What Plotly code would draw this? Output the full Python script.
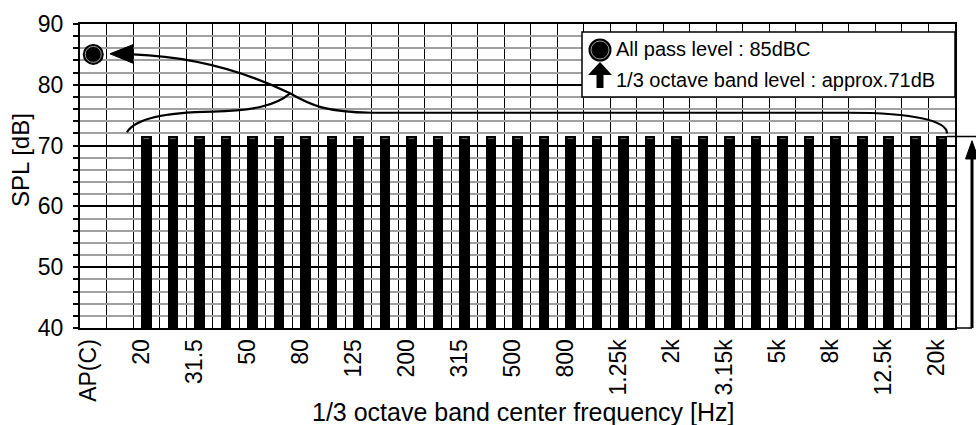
import plotly.graph_objects as go

# ---------------- data ----------------
ap_label = "AP(C)"
ap_level = 85
bands = ["20", "25", "31.5", "40", "50", "63", "80", "100", "125", "160", "200",
         "250", "315", "400", "500", "630", "800", "1k", "1.25k", "1.6k", "2k",
         "2.5k", "3.15k", "4k", "5k", "6.3k", "8k", "10k", "12.5k", "16k", "20k"]
band_levels = [71.5, 71.5, 71.5, 71.5, 71.5, 71.5, 71.5, 71.5, 71.5, 71.5, 71.5,
               71.5, 71.5, 71.5, 71.5, 71.5, 71.5, 71.5, 71.5, 71.5, 71.5,
               71.5, 71.5, 71.5, 71.5, 71.5, 71.5, 71.5, 71.5, 71.5, 71.5]
legend_lines = ["All pass level : 85dBC", "1/3 octave band level : approx.71dB"]
x_title = "1/3 octave band center frequency [Hz]"
y_title = "SPL [dB]"
y_range = [40, 90]

# ---------------- layout helpers ----------------
FONT = "Liberation Sans"
W, H = 976, 425
PL, PR, PT, PB = 80, 955, 24, 328   # plot area on screen
ML, MT = PL, PT
MR, MB = W - PR, H - PB
ap_x = 0
band_x = [i + 2 for i in range(len(bands))]   # one empty slot after AP(C)
n_slots = band_x[-1] + 1
level = band_levels[-1]

tickvals = [ap_x] + band_x[::2]
ticktext = [ap_label] + bands[::2]


def px2paper_x(px):
    return (px - PL) / (PR - PL)


def px2paper_y(py):
    return (PB - py) / (PB - PT)


def val2paper_y(v):
    return (v - y_range[0]) / (y_range[1] - y_range[0])


fig = go.Figure()

fig.add_trace(go.Bar(
    x=band_x, y=[v - y_range[0] for v in band_levels], base=y_range[0],
    width=0.4, marker=dict(color="black", line=dict(width=0)),
    showlegend=False, hoverinfo="skip"))
# thin grey cap line visible near the top of each bar
fig.add_trace(go.Scatter(
    x=band_x, y=[v - 0.35 for v in band_levels], mode="markers",
    marker=dict(symbol="line-ew", size=4, line=dict(color="#707070", width=1)),
    showlegend=False, hoverinfo="skip"))
# all-pass point
fig.add_trace(go.Scatter(
    x=[ap_x], y=[ap_level], mode="markers",
    marker=dict(symbol="circle", size=21, color="black", line=dict(width=0)),
    showlegend=False, hoverinfo="skip"))
fig.add_trace(go.Scatter(
    x=[ap_x], y=[ap_level], mode="markers",
    marker=dict(symbol="circle", size=16, color="black",
                line=dict(color="#9a9a9a", width=1)),
    showlegend=False, hoverinfo="skip"))

shapes = []
# brace (left branch) and arrow curve (continuing into right branch)
shapes.append(dict(type="path", xref="x", yref="y", layer="above",
                   path="M 1.27 72.2 C 1.6 74.6, 2.8 75.5, 4.5 75.6 C 6.0 75.7, 6.9 76.6, 7.42 78.6",
                   line=dict(color="black", width=2.2)))
shapes.append(dict(type="path", xref="x", yref="y", layer="above",
                   path="M 1.5 85.0 C 4.0 84.6, 6.0 81.6, 7.42 78.6 C 8.2 76.6, 8.8 75.5, 10.5 75.4 "
                        "L 28.5 75.4 C 31.0 75.4, 32.2 74.0, 32.2 72.0",
                   line=dict(color="black", width=2.2)))
shapes.append(dict(type="path", xref="x", yref="y", layer="above",
                   path="M 0.63 85.1 L 1.5 86.6 L 1.5 83.55 Z",
                   fillcolor="black", line=dict(color="black", width=1)))

# dimension arrow on the right (paper coordinates, outside the plot area)
arr_x = px2paper_x(972)
lvl_p = val2paper_y(level)
bot_p = val2paper_y(y_range[0])
tip_p = val2paper_y(level - 0.7)
head_p = val2paper_y(level - 3.7)
shapes.append(dict(type="line", xref="paper", yref="paper", x0=(band_x[-1] + 0.2 + 0.5) / n_slots,
                   x1=1.04, y0=lvl_p, y1=lvl_p, line=dict(color="black", width=1.5)))
shapes.append(dict(type="line", xref="paper", yref="paper", x0=1.0, x1=arr_x,
                   y0=bot_p, y1=bot_p, line=dict(color="black", width=1.5)))
shapes.append(dict(type="line", xref="paper", yref="paper", x0=arr_x, x1=arr_x,
                   y0=bot_p, y1=val2paper_y(level - 2.5), line=dict(color="black", width=3)))
shapes.append(dict(type="path", xref="paper", yref="paper", xsizemode="pixel", xanchor=arr_x,
                   path=f"M 0 {tip_p} L -6.5 {head_p} L 6.5 {head_p} Z",
                   fillcolor="black", line=dict(color="black", width=1)))

# legend box
shapes.append(dict(type="rect", xref="paper", yref="paper", layer="above",
                   x0=px2paper_x(582), x1=1.0, y0=px2paper_y(97), y1=px2paper_y(32),
                   fillcolor="white", line=dict(color="black", width=1.5)))
lx = px2paper_x(600)
shapes.append(dict(type="circle", xref="paper", yref="paper", layer="above",
                   xsizemode="pixel", ysizemode="pixel", xanchor=lx, yanchor=px2paper_y(50),
                   x0=-11.5, x1=11.5, y0=-11.5, y1=11.5,
                   fillcolor="black", line=dict(width=0)))
shapes.append(dict(type="circle", xref="paper", yref="paper", layer="above",
                   xsizemode="pixel", ysizemode="pixel", xanchor=lx, yanchor=px2paper_y(50),
                   x0=-9, x1=9, y0=-9, y1=9,
                   line=dict(color="#9a9a9a", width=1)))
shapes.append(dict(type="path", xref="paper", yref="paper", layer="above",
                   xsizemode="pixel", ysizemode="pixel", xanchor=lx, yanchor=px2paper_y(75),
                   path="M 0 13 L 12 0 L 3.5 0 L 3.5 -13 L -3.5 -13 L -3.5 0 L -12 0 Z",
                   fillcolor="black", line=dict(width=0)))

annotations = [
    dict(text=legend_lines[0], xref="paper", yref="paper", x=px2paper_x(614), y=px2paper_y(49),
         xanchor="left", yanchor="middle", showarrow=False, font=dict(family=FONT, size=20, color="black")),
    dict(text=legend_lines[1], xref="paper", yref="paper", x=px2paper_x(614), y=px2paper_y(80),
         xanchor="left", yanchor="middle", showarrow=False, font=dict(family=FONT, size=20, color="black")),
    dict(text=x_title, xref="paper", yref="paper", x=px2paper_x(523), y=px2paper_y(412),
         xanchor="center", yanchor="middle", showarrow=False, font=dict(family=FONT, size=25, color="black")),
    dict(text=y_title, xref="paper", yref="paper", x=px2paper_x(21), y=px2paper_y(160),
         xanchor="center", yanchor="middle", textangle=-90, showarrow=False,
         font=dict(family=FONT, size=24, color="black")),
]

fig.update_layout(
    width=W, height=H, autosize=False,
    margin=dict(l=ML, r=MR, t=MT, b=MB, pad=0, autoexpand=False),
    paper_bgcolor="white", plot_bgcolor="white",
    font=dict(family=FONT, color="black"),
    shapes=shapes, annotations=annotations, bargap=0,
)
fig.update_xaxes(
    automargin=False,
    range=[-0.5, n_slots - 0.5], tickmode="array", tickvals=tickvals, ticktext=ticktext,
    tickangle=-90, tickfont=dict(family=FONT, size=23, color="black"), ticklabelshift=-5,
    ticks="", showgrid=False, zeroline=False,
    showline=True, linecolor="black", linewidth=2, mirror=True,
    minor=dict(tickmode="array", tickvals=[k + 0.5 for k in range(-1, n_slots)],
               showgrid=True, gridcolor="black", gridwidth=1.2, ticks=""),
)
fig.update_yaxes(
    automargin=False,
    range=y_range, dtick=10, tick0=0, ticks="outside", ticklen=5, tickwidth=2, tickcolor="black",
    tickfont=dict(family=FONT, size=23, color="black"), ticklabelstandoff=5,
    showgrid=True, gridcolor="black", gridwidth=1.5, zeroline=False,
    showline=True, linecolor="black", linewidth=2, mirror=True,
    minor=dict(dtick=2, tick0=0, ticks="outside", ticklen=5, tickwidth=2, tickcolor="black",
               showgrid=True, gridcolor="#a0a0a0", gridwidth=1.5),
)

fig.write_html("out.html", config={"displayModeBar": False},
               post_script="document.body.style.margin='0';document.body.style.overflow='hidden';")
